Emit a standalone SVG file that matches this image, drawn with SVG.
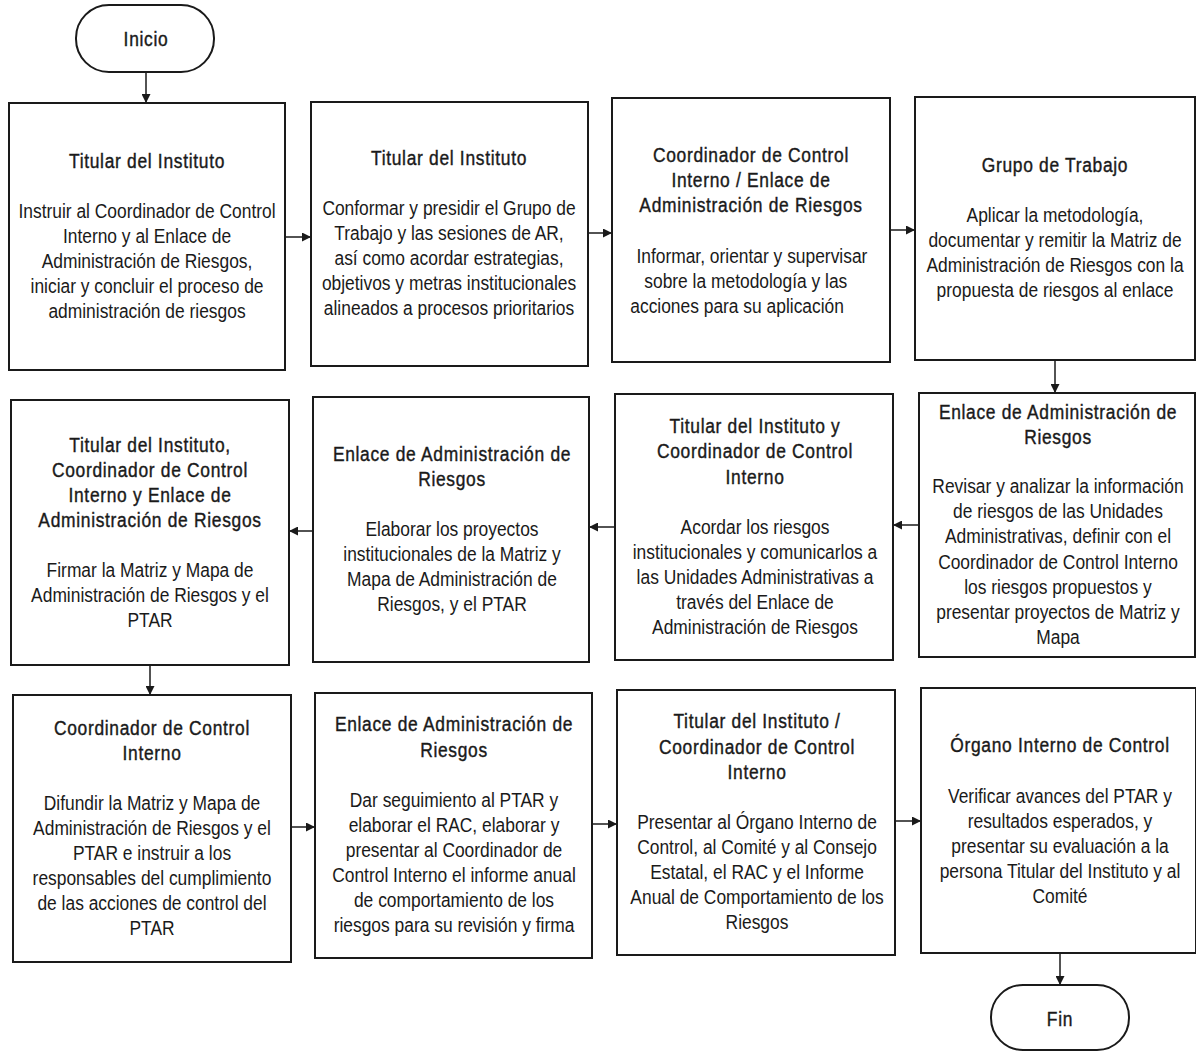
<svg xmlns="http://www.w3.org/2000/svg" width="1196" height="1051" viewBox="0 0 1196 1051">
<defs>
<style>
.box{fill:#fff;stroke:#1a1a1a;stroke-width:2}
.t{font-family:"Liberation Sans",Arial,sans-serif;font-size:20px;fill:#1a1a1a;text-anchor:middle}
.h{stroke:#1a1a1a;stroke-width:0.4;letter-spacing:0.8px}
.c{fill:none;stroke:#1a1a1a;stroke-width:1.5}
</style>
<marker id="ah" viewBox="0 0 10 10" refX="10" refY="5" markerWidth="9" markerHeight="9" markerUnits="userSpaceOnUse" orient="auto">
<path d="M0,0 L10,5 L0,10 Z" fill="#1a1a1a"/>
</marker>
</defs>
<rect width="1196" height="1051" fill="#fff"/>
<g id="connectors">
<path class="c" d="M146,72 V103" marker-end="url(#ah)"/>
<path class="c" d="M285,237 H311" marker-end="url(#ah)"/>
<path class="c" d="M588,233 H612" marker-end="url(#ah)"/>
<path class="c" d="M890,230 H915" marker-end="url(#ah)"/>
<path class="c" d="M1055,360 V393" marker-end="url(#ah)"/>
<path class="c" d="M919,525 H893" marker-end="url(#ah)"/>
<path class="c" d="M615,527 H589" marker-end="url(#ah)"/>
<path class="c" d="M313,531 H289" marker-end="url(#ah)"/>
<path class="c" d="M150,665 V695" marker-end="url(#ah)"/>
<path class="c" d="M291,827 H315" marker-end="url(#ah)"/>
<path class="c" d="M592,824 H617" marker-end="url(#ah)"/>
<path class="c" d="M895,821 H921" marker-end="url(#ah)"/>
<path class="c" d="M1060,953 V985" marker-end="url(#ah)"/>
</g>
<g id="inicio">
<rect class="box" x="76" y="5" width="138" height="67" rx="33" ry="33"/>
<g transform="translate(146 0) scale(0.87 1)"><text class="t h" x="0" y="46">Inicio</text></g>
</g>
<g id="n1">
<rect class="box" x="9" y="103" width="276" height="267"/>
<g transform="translate(147 0) scale(0.87 1)">
<text class="t h" x="0" y="168">Titular del Instituto</text>
<text class="t" x="0" y="218">Instruir al Coordinador de Control</text>
<text class="t" x="0" y="243">Interno y al Enlace de</text>
<text class="t" x="0" y="268">Administración de Riesgos,</text>
<text class="t" x="0" y="293">iniciar y concluir el proceso de</text>
<text class="t" x="0" y="318">administración de riesgos</text>
</g>
</g>
<g id="n2">
<rect class="box" x="311" y="102" width="277" height="264"/>
<g transform="translate(449 0) scale(0.87 1)">
<text class="t h" x="0" y="165">Titular del Instituto</text>
<text class="t" x="0" y="215">Conformar y presidir el Grupo de</text>
<text class="t" x="0" y="240">Trabajo y las sesiones de AR,</text>
<text class="t" x="0" y="265">así como acordar estrategias,</text>
<text class="t" x="0" y="290">objetivos y metras institucionales</text>
<text class="t" x="0" y="315">alineados a procesos prioritarios</text>
</g>
</g>
<g id="n3">
<rect class="box" x="612" y="98" width="278" height="264"/>
<g transform="translate(751 0) scale(0.87 1)">
<text class="t h" x="0" y="162">Coordinador de Control</text>
<text class="t h" x="0" y="187">Interno / Enlace de</text>
<text class="t h" x="0" y="212">Administración de Riesgos</text>
<text class="t" x="1" y="263">Informar, orientar y supervisar</text>
<text class="t" x="-6" y="288">sobre la metodología y las</text>
<text class="t" x="-16" y="313">acciones para su aplicación</text>
</g>
</g>
<g id="n4">
<rect class="box" x="915" y="97" width="280" height="263"/>
<g transform="translate(1055 0) scale(0.87 1)">
<text class="t h" x="0" y="172">Grupo de Trabajo</text>
<text class="t" x="0" y="222">Aplicar la metodología,</text>
<text class="t" x="0" y="247">documentar y remitir la Matriz de</text>
<text class="t" x="0" y="272">Administración de Riesgos con la</text>
<text class="t" x="0" y="297">propuesta de riesgos al enlace</text>
</g>
</g>
<g id="n5">
<rect class="box" x="11" y="400" width="278" height="265"/>
<g transform="translate(150 0) scale(0.87 1)">
<text class="t h" x="0" y="452">Titular del Instituto,</text>
<text class="t h" x="0" y="477">Coordinador de Control</text>
<text class="t h" x="0" y="502">Interno y Enlace de</text>
<text class="t h" x="0" y="527">Administración de Riesgos</text>
<text class="t" x="0" y="577">Firmar la Matriz y Mapa de</text>
<text class="t" x="0" y="602">Administración de Riesgos y el</text>
<text class="t" x="0" y="627">PTAR</text>
</g>
</g>
<g id="n6">
<rect class="box" x="313" y="397" width="276" height="265"/>
<g transform="translate(452 0) scale(0.87 1)">
<text class="t h" x="0" y="461">Enlace de Administración de</text>
<text class="t h" x="0" y="486">Riesgos</text>
<text class="t" x="0" y="536">Elaborar los proyectos</text>
<text class="t" x="0" y="561">institucionales de la Matriz y</text>
<text class="t" x="0" y="586">Mapa de Administración de</text>
<text class="t" x="0" y="611">Riesgos, y el PTAR</text>
</g>
</g>
<g id="n7">
<rect class="box" x="615" y="394" width="278" height="266"/>
<g transform="translate(755 0) scale(0.87 1)">
<text class="t h" x="0" y="433">Titular del Instituto y</text>
<text class="t h" x="0" y="458">Coordinador de Control</text>
<text class="t h" x="0" y="484">Interno</text>
<text class="t" x="0" y="534">Acordar los riesgos</text>
<text class="t" x="0" y="559">institucionales y comunicarlos a</text>
<text class="t" x="0" y="584">las Unidades Administrativas a</text>
<text class="t" x="0" y="609">través del Enlace de</text>
<text class="t" x="0" y="634">Administración de Riesgos</text>
</g>
</g>
<g id="n8">
<rect class="box" x="919" y="393" width="276" height="264"/>
<g transform="translate(1058 0) scale(0.87 1)">
<text class="t h" x="0" y="419">Enlace de Administración de</text>
<text class="t h" x="0" y="444">Riesgos</text>
<text class="t" x="0" y="493">Revisar y analizar la información</text>
<text class="t" x="0" y="518">de riesgos de las Unidades</text>
<text class="t" x="0" y="543">Administrativas, definir con el</text>
<text class="t" x="0" y="569">Coordinador de Control Interno</text>
<text class="t" x="0" y="594">los riesgos propuestos y</text>
<text class="t" x="0" y="619">presentar proyectos de Matriz y</text>
<text class="t" x="0" y="644">Mapa</text>
</g>
</g>
<g id="n9">
<rect class="box" x="13" y="695" width="278" height="267"/>
<g transform="translate(152 0) scale(0.87 1)">
<text class="t h" x="0" y="735">Coordinador de Control</text>
<text class="t h" x="0" y="760">Interno</text>
<text class="t" x="0" y="810">Difundir la Matriz y Mapa de</text>
<text class="t" x="0" y="835">Administración de Riesgos y el</text>
<text class="t" x="0" y="860">PTAR e instruir a los</text>
<text class="t" x="0" y="885">responsables del cumplimiento</text>
<text class="t" x="0" y="910">de las acciones de control del</text>
<text class="t" x="0" y="935">PTAR</text>
</g>
</g>
<g id="n10">
<rect class="box" x="315" y="693" width="277" height="265"/>
<g transform="translate(454 0) scale(0.87 1)">
<text class="t h" x="0" y="731">Enlace de Administración de</text>
<text class="t h" x="0" y="757">Riesgos</text>
<text class="t" x="0" y="807">Dar seguimiento al PTAR y</text>
<text class="t" x="0" y="832">elaborar el RAC, elaborar y</text>
<text class="t" x="0" y="857">presentar al Coordinador de</text>
<text class="t" x="0" y="882">Control Interno el informe anual</text>
<text class="t" x="0" y="907">de comportamiento de los</text>
<text class="t" x="0" y="932">riesgos para su revisión y firma</text>
</g>
</g>
<g id="n11">
<rect class="box" x="617" y="690" width="278" height="265"/>
<g transform="translate(757 0) scale(0.87 1)">
<text class="t h" x="0" y="728">Titular del Instituto /</text>
<text class="t h" x="0" y="754">Coordinador de Control</text>
<text class="t h" x="0" y="779">Interno</text>
<text class="t" x="0" y="829">Presentar al Órgano Interno de</text>
<text class="t" x="0" y="854">Control, al Comité y al Consejo</text>
<text class="t" x="0" y="879">Estatal, el RAC y el Informe</text>
<text class="t" x="0" y="904">Anual de Comportamiento de los</text>
<text class="t" x="0" y="929">Riesgos</text>
</g>
</g>
<g id="n12">
<rect class="box" x="921" y="688" width="275" height="265"/>
<g transform="translate(1060 0) scale(0.87 1)">
<text class="t h" x="0" y="752">Órgano Interno de Control</text>
<text class="t" x="0" y="803">Verificar avances del PTAR y</text>
<text class="t" x="0" y="828">resultados esperados, y</text>
<text class="t" x="0" y="853">presentar su evaluación a la</text>
<text class="t" x="0" y="878">persona Titular del Instituto y al</text>
<text class="t" x="0" y="903">Comité</text>
</g>
</g>
<g id="fin">
<rect class="box" x="991" y="985" width="138" height="65" rx="32" ry="32"/>
<g transform="translate(1060 0) scale(0.87 1)"><text class="t h" x="0" y="1026">Fin</text></g>
</g>
</svg>
